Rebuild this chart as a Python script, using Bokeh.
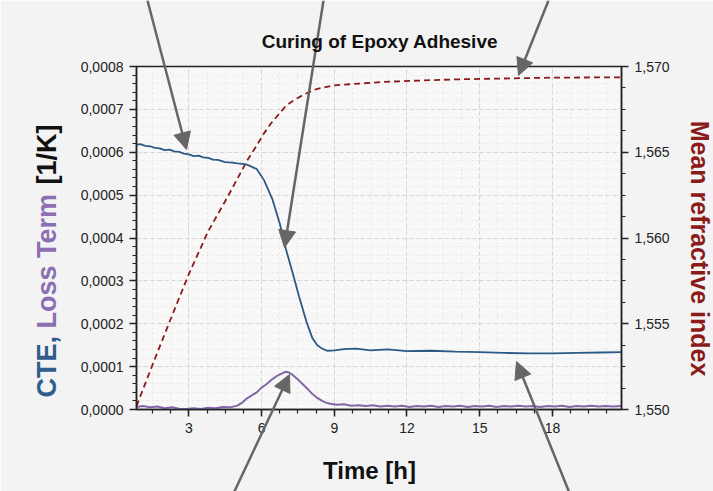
import numpy as np
from bokeh.plotting import figure
from bokeh.models import (Range1d, LinearAxis, FixedTicker, Label, Arrow,
                          NormalHead, CustomJSTickFormatter)
from bokeh.embed import file_html
from bokeh.resources import INLINE

# ---------------- data ----------------
time_cte = [0.84, 1.0, 1.2, 1.4, 1.6, 1.8, 2.0, 2.2, 2.4, 2.6, 2.8, 3.0, 3.2, 3.4,
            3.6, 3.8, 4.0, 4.2, 4.5, 4.8, 5.0, 5.2, 5.4, 5.8, 6.1,
            6.45, 6.75, 7.0, 7.3, 7.55, 7.85, 8.1, 8.3, 8.5, 8.7, 9.0, 9.4, 9.9,
            10.5, 11.2, 12.0, 13.0, 14.0, 15.0, 16.0, 17.0, 18.0, 19.0, 20.0, 20.85]
cte = [6.18e-4, 6.19e-4, 6.15e-4, 6.14e-4, 6.10e-4, 6.09e-4, 6.05e-4, 6.06e-4,
       6.02e-4, 6.01e-4, 5.97e-4, 5.95e-4, 5.91e-4, 5.92e-4, 5.88e-4, 5.87e-4,
       5.83e-4, 5.82e-4, 5.77e-4, 5.76e-4, 5.74e-4, 5.73e-4, 5.71e-4, 5.61e-4,
       5.35e-4, 4.90e-4, 4.34e-4,
       3.75e-4, 3.15e-4, 2.63e-4, 2.05e-4, 1.66e-4, 1.50e-4, 1.42e-4, 1.37e-4,
       1.38e-4, 1.41e-4, 1.42e-4, 1.38e-4, 1.40e-4, 1.36e-4, 1.37e-4, 1.35e-4,
       1.34e-4, 1.32e-4, 1.31e-4, 1.31e-4, 1.32e-4, 1.33e-4, 1.34e-4]

time_loss = [0.84, 1.1, 1.4, 1.7, 2.0, 2.3, 2.6, 2.9, 3.2, 3.5, 3.8, 4.1, 4.4, 4.7,
             5.0, 5.2, 5.4, 5.6, 5.8, 6.0, 6.2, 6.4, 6.6, 6.8, 7.0, 7.1, 7.3, 7.5,
             7.7, 7.9, 8.1, 8.3, 8.5, 8.7, 8.9, 9.1, 9.4, 9.7, 10.0, 10.3, 10.6,
             10.9, 11.2, 11.5, 11.8, 12.1, 12.4, 12.7, 13.0, 13.3, 13.6, 13.9,
             14.2, 14.5, 14.8, 15.1, 15.4, 15.7, 16.0, 16.3, 16.6, 16.9, 17.2,
             17.5, 17.8, 18.1, 18.4, 18.7, 19.0, 19.3, 19.6, 19.9, 20.2, 20.5, 20.85]
loss = [0.6e-5, 0.8e-5, 0.5e-5, 0.7e-5, 0.3e-5, 0.5e-5, 0.2e-5, 0.1e-5, 0.3e-5,
        0.1e-5, 0.4e-5, 0.3e-5, 0.6e-5, 0.5e-5, 0.9e-5, 1.6e-5, 2.6e-5, 3.3e-5,
        4.0e-5, 5.1e-5, 5.9e-5, 6.9e-5, 7.7e-5, 8.3e-5, 8.8e-5, 8.7e-5, 8.0e-5,
        7.0e-5, 5.9e-5, 4.8e-5, 3.6e-5, 2.7e-5, 2.0e-5, 1.5e-5, 1.3e-5, 1.1e-5,
        1.2e-5, 0.9e-5, 1.0e-5, 0.8e-5, 1.0e-5, 0.7e-5, 0.9e-5, 0.7e-5, 0.9e-5,
        0.6e-5, 0.8e-5, 0.7e-5, 0.9e-5, 0.6e-5, 0.8e-5, 0.7e-5, 0.9e-5, 0.6e-5,
        0.8e-5, 0.7e-5, 0.9e-5, 0.6e-5, 0.8e-5, 0.7e-5, 0.9e-5, 0.7e-5, 0.8e-5,
        0.6e-5, 0.8e-5, 0.7e-5, 0.9e-5, 0.6e-5, 0.8e-5, 0.7e-5, 0.9e-5, 0.7e-5,
        0.8e-5, 0.7e-5, 0.8e-5]

time_ri = [0.84, 1.5, 2.2, 3.0, 3.8, 4.6, 5.4, 5.8, 6.1, 6.4, 6.7, 7.0, 7.4, 7.8,
           8.3, 9.0, 10.0, 11.0, 12.5, 14.0, 16.0, 18.0, 20.85]
ri = [1.5502, 1.5526, 1.5551, 1.5579, 1.5604, 1.5624, 1.5645, 1.5654, 1.5661,
      1.5667, 1.5672, 1.5677, 1.5681, 1.5684, 1.5687, 1.5689, 1.5690, 1.5691,
      1.56918, 1.56925, 1.5693, 1.56935, 1.56937]

x_ticks = [3, 6, 9, 12, 15, 18]
y_ticks = [0.0, 0.0001, 0.0002, 0.0003, 0.0004, 0.0005, 0.0006, 0.0007, 0.0008]
ri_ticks = [1.550, 1.555, 1.560, 1.565, 1.570]

# ---------------- layout ----------------
W, H = 713, 491
FL, FT, FR, FB = 136, 66, 92, 82          # frame insets within figure
X0, X1 = 0.84, 20.85
Y0, Y1 = 0.0, 0.0008
R0, R1 = 1.550, 1.570

fw, fh = W - FL - FR, H - FT - FB
def dx(px):
    return X0 + (px - FL) / fw * (X1 - X0)
def dy(py):
    return Y0 + (H - FB - py) / fh * (Y1 - Y0)

p = figure(width=W, height=H, x_range=Range1d(X0, X1), y_range=Range1d(Y0, Y1),
           output_backend="svg", toolbar_location=None,
           min_border_left=FL, min_border_right=FR, min_border_top=FT,
           min_border_bottom=FB)
p.extra_y_ranges = {"ri": Range1d(R0, R1)}

p.background_fill_color = "#f8f8f8"
p.border_fill_color = "#f3f3f3"
p.outline_line_color = "#222222"
p.outline_line_width = 1.5

FONT = "Liberation Sans"

def style_axis(ax):
    ax.axis_line_color = "#222222"
    ax.axis_line_width = 1.5
    ax.major_tick_line_color = "#222222"
    ax.minor_tick_line_color = "#222222"
    ax.major_tick_line_width = 1.5
    ax.minor_tick_line_width = 1.2
    ax.major_tick_out = 7
    ax.major_tick_in = 0
    ax.minor_tick_out = 4
    ax.minor_tick_in = 0
    ax.major_label_text_font = FONT
    ax.major_label_text_font_size = "14px"
    ax.major_label_text_color = "#222222"
    ax.major_label_standoff = 6

p.xaxis.ticker = FixedTicker(ticks=x_ticks,
                             minor_ticks=list(np.round(np.arange(0.75, 21.0, 0.75), 3)))
p.yaxis.ticker = FixedTicker(ticks=y_ticks,
                             minor_ticks=list(np.round(np.arange(0, 0.00081, 0.00002), 6)))
p.yaxis.formatter = CustomJSTickFormatter(code="return tick.toFixed(4).replace('.', ',');")
style_axis(p.xaxis[0])
style_axis(p.yaxis[0])

ax_r = LinearAxis(y_range_name="ri",
                  ticker=FixedTicker(ticks=ri_ticks,
                                     minor_ticks=list(np.round(np.arange(1.55, 1.5701, 0.00125), 5))),
                  formatter=CustomJSTickFormatter(code="return tick.toFixed(3).replace('.', ',');"))
style_axis(ax_r)
p.add_layout(ax_r, "right")

for g in (p.xgrid[0], p.ygrid[0]):
    g.grid_line_color = "#d6d6d6"
    g.grid_line_dash = "4 3"
    g.grid_line_width = 1
    g.minor_grid_line_color = "#e6e6e6"
    g.minor_grid_line_dash = "2 3"
    g.minor_grid_line_width = 1

# ---------------- series ----------------
p.line(time_ri, ri, y_range_name="ri", line_color="#8b1a1a", line_width=1.8,
       line_dash="6 4")
p.line(time_loss, loss, line_color="#8466a8", line_width=2)
p.line(time_cte, cte, line_color="#2d5a85", line_width=1.8)

# ---------------- transparent overlay for texts/arrows outside the frame ----------------
ov = figure(width=W, height=H, x_range=Range1d(dx(0), dx(W)), y_range=Range1d(dy(H), dy(0)),
            output_backend="svg", toolbar_location=None, x_axis_type=None, y_axis_type=None,
            min_border=0)
ov.min_border_left = ov.min_border_right = ov.min_border_top = ov.min_border_bottom = 0
ov.outline_line_color = None
ov.background_fill_alpha = 0
ov.border_fill_alpha = 0
ov.margin = (-H, 0, 0, 0)

ac = "#666666"
arrows = [((147, 0), (186, 149)),
          ((323, 0), (284, 247)),
          ((548, 0), (518, 75)),
          ((232, 495), (289, 374)),
          ((570, 495), (516, 361))]
for (sx, sy), (ex, ey) in arrows:
    ov.add_layout(Arrow(end=NormalHead(size=17, fill_color=ac, line_color=ac),
                        x_start=dx(sx), y_start=dy(sy), x_end=dx(ex), y_end=dy(ey),
                        line_color=ac, line_width=2.5))

ov.add_layout(Label(x=dx(379.5), y=dy(41), text="Curing of Epoxy Adhesive",
                    text_font=FONT, text_font_size="19px", text_font_style="bold",
                    text_align="center", text_baseline="alphabetic", text_color="#111111"))
ov.add_layout(Label(x=dx(369), y=dy(470), text="Time [h]",
                    text_font=FONT, text_font_size="24px", text_font_style="bold",
                    text_align="center", text_baseline="alphabetic", text_color="#111111"))

F = 27
pos = 397
parts = [("CTE,", "#2f5d8c", 2.556), ("Loss Term", "#8b6fb3", 5.335), ("[1/K]", "#111111", 2.222)]
for txt, col, em in parts:
    ov.add_layout(Label(x=dx(46), y=dy(pos), text=txt, angle=np.pi / 2,
                        text_font=FONT, text_font_size=f"{F}px", text_font_style="bold",
                        text_align="left", text_baseline="middle", text_color=col))
    pos -= em * F

ov.add_layout(Label(x=dx(699), y=dy(248), text="Mean refractive index", angle=-np.pi / 2,
                    text_font=FONT, text_font_size="25px", text_font_style="bold",
                    text_align="center", text_baseline="middle", text_color="#8b1a1a"))

open("out.html", "w").write(file_html([p, ov], INLINE))
